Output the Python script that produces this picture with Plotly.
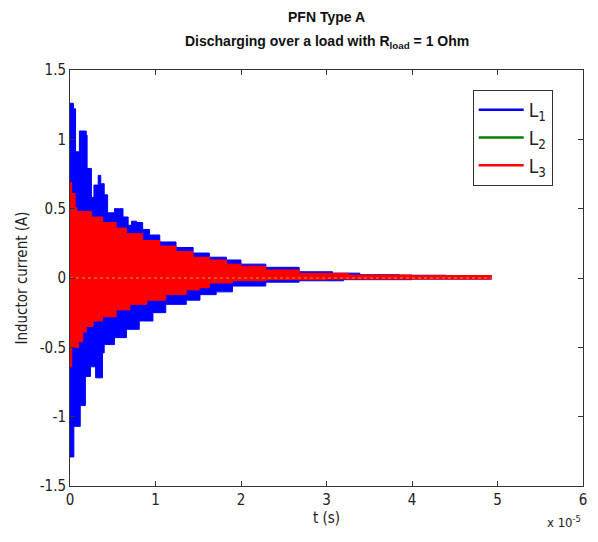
import plotly.graph_objects as go

# time in units of 1e-5 s
t_l1_upper = [0.0, 0.04, 0.065, 0.10, 0.11, 0.19, 0.20, 0.25, 0.28, 0.33, 0.36, 0.40, 0.44, 0.52, 0.58,
              0.62, 0.68, 0.72, 0.78, 0.85, 0.93, 1.05, 1.12, 1.24, 1.44, 1.63, 1.83, 2.0, 2.29, 2.68,
              3.07, 3.39, 3.85, 4.4, 4.93]
l1_upper = [1.26, 1.22, 0.91, 0.91, 1.06, 1.03, 0.79, 0.58, 0.67, 0.74, 0.68, 0.60, 0.47, 0.50, 0.50,
            0.44, 0.38, 0.41, 0.40, 0.35, 0.31, 0.26, 0.26, 0.22, 0.18, 0.15, 0.13, 0.10, 0.077, 0.045,
            0.035, 0.024, 0.02, 0.015, 0.01]

t_l1_lower = [0.0, 0.045, 0.05, 0.12, 0.13, 0.18, 0.19, 0.24, 0.25, 0.30, 0.31, 0.38, 0.40, 0.52,
              0.66, 0.81, 0.97, 1.12, 1.36, 1.52, 1.71, 1.9, 2.29, 2.68, 3.2, 4.0, 4.93]
l1_lower = [-1.29, -1.29, -1.07, -1.07, -0.92, -0.92, -0.71, -0.71, -0.64, -0.64, -0.72, -0.72, -0.54,
            -0.48, -0.43, -0.37, -0.31, -0.25, -0.19, -0.16, -0.12, -0.10, -0.058, -0.03, -0.02,
            -0.012, -0.008]

t_l3_upper = [0.0, 0.02, 0.06, 0.08, 0.19, 0.25, 0.38, 0.54, 0.66, 0.85, 1.05, 1.24, 1.44, 1.63,
              1.83, 2.0, 2.29, 2.68, 3.26, 4.0, 4.93]
l3_upper = [0.69, 0.61, 0.51, 0.48, 0.48, 0.44, 0.40, 0.36, 0.32, 0.27, 0.23, 0.19, 0.15, 0.13,
            0.10, 0.085, 0.058, 0.034, 0.022, 0.018, 0.015]

t_l3_lower = [0.0, 0.02, 0.03, 0.10, 0.15, 0.19, 0.27, 0.38, 0.54, 0.70, 0.90, 1.12, 1.36, 1.51,
              1.63, 1.9, 2.29, 3.0, 4.93]
l3_lower = [-0.64, -0.64, -0.50, -0.50, -0.46, -0.39, -0.35, -0.31, -0.28, -0.23, -0.19, -0.16,
            -0.12, -0.086, -0.07, -0.036, -0.02, -0.012, -0.008]

t_l2 = [0.0, 4.93]
l2 = [0.0, 0.0]

x_ticks = [0, 1, 2, 3, 4, 5, 6]
y_ticks = [-1.5, -1, -0.5, 0, 0.5, 1, 1.5]
y_tick_labels = ["-1.5", "-1", "-0.5", "0", "0.5", "1", "1.5"]

FONT = "DejaVu Sans Condensed, Liberation Sans Narrow, Arial Narrow, Liberation Sans, sans-serif"
BLUE = "#0000ff"
GREEN = "#008000"
RED = "#ff0000"

fig = go.Figure()

# L1 envelope
fig.add_trace(go.Scatter(
    x=t_l1_upper + t_l1_lower[::-1], y=l1_upper + l1_lower[::-1],
    fill="toself", fillcolor=BLUE, mode="lines", line=dict(color=BLUE, width=1, shape="hv"),
    showlegend=False, hoverinfo="skip"))
# L3 envelope
fig.add_trace(go.Scatter(
    x=t_l3_upper + t_l3_lower[::-1], y=l3_upper + l3_lower[::-1],
    fill="toself", fillcolor=RED, mode="lines", line=dict(color=RED, width=1, shape="hv"),
    showlegend=False, hoverinfo="skip"))
# L2 (nearly zero, dotted trace seen at y=0)
fig.add_trace(go.Scatter(
    x=t_l2, y=l2, mode="lines", line=dict(color="#c8a030", width=1, dash="dot"),
    showlegend=False, hoverinfo="skip"))

# legend entries
for name, col in [("L<sub>1</sub>", BLUE), ("L<sub>2</sub>", GREEN), ("L<sub>3</sub>", RED)]:
    fig.add_trace(go.Scatter(x=[None], y=[None], mode="lines", name=name,
                             line=dict(color=col, width=2.5)))

axis_common = dict(showline=True, linecolor="#333333", linewidth=1, mirror="ticks",
                   ticks="inside", ticklen=5, tickcolor="#333333", showgrid=False,
                   zeroline=False, automargin=False,
                   tickfont=dict(family=FONT, size=15, color="#222222"))

fig.update_layout(
    width=598, height=542,
    margin=dict(l=70, r=15, t=70, b=56),
    paper_bgcolor="white", plot_bgcolor="white",
    font=dict(family=FONT, size=15, color="#222222"),
    xaxis=dict(range=[0, 6], tickvals=x_ticks, ticktext=[str(v) for v in x_ticks],
               title=dict(text="t (s)", font=dict(family=FONT, size=15), standoff=4),
               **axis_common),
    yaxis=dict(range=[-1.5, 1.5], tickvals=y_ticks, ticktext=y_tick_labels,
               title=dict(text="Inductor current (A)", font=dict(family=FONT, size=15), standoff=8),
               **axis_common),
    legend=dict(x=0.785, y=0.952, xanchor="left", yanchor="top",
                bgcolor="white", bordercolor="#333333", borderwidth=1,
                font=dict(family=FONT, size=19, color="#222222"),
                itemwidth=45),
)

plot_h = 542 - 70 - 56
def ypix(py):
    return 1 + (70 - py) / plot_h

fig.add_annotation(text="<b>PFN Type A</b>", x=0.5, y=ypix(17), xref="paper", yref="paper",
                   showarrow=False, yanchor="middle",
                   font=dict(family="Liberation Sans, Arial", size=14, color="#111111"))
fig.add_annotation(text="<b>Discharging over a load with R<sub>load</sub> = 1 Ohm</b>", x=0.5, y=ypix(42),
                   xref="paper", yref="paper", showarrow=False, yanchor="middle",
                   font=dict(family="Liberation Sans, Arial", size=14, color="#111111"))
fig.add_annotation(text="x 10<sup>-5</sup>", x=1.0, y=ypix(522), xref="paper", yref="paper",
                   showarrow=False, xanchor="right", yanchor="middle",
                   font=dict(family=FONT, size=13, color="#222222"))

fig.write_html("out.html", config={"displayModeBar": False},
               post_script="document.body.style.margin='0';document.body.style.overflow='hidden';")
